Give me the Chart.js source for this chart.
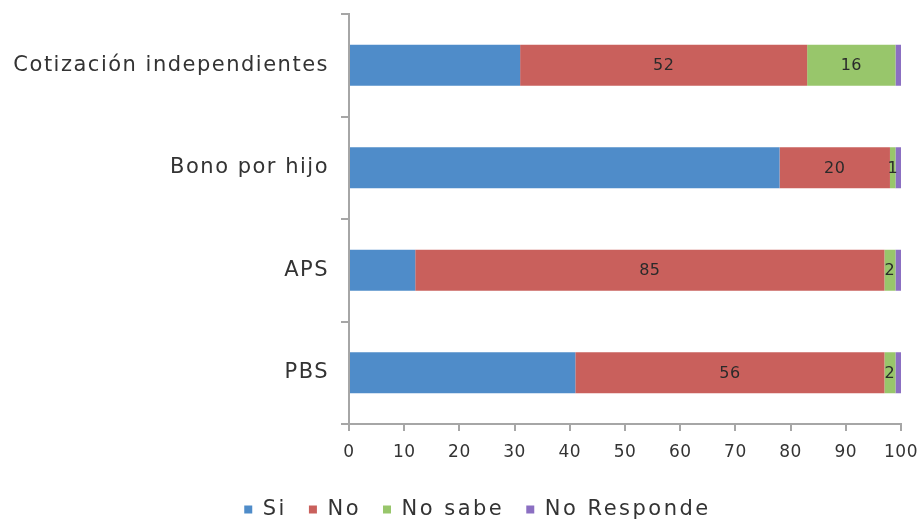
<!DOCTYPE html>
<html>
<head>
<meta charset="utf-8">
<script src="https://cdn.jsdelivr.net/npm/chart.js@4/dist/chart.umd.min.js"></script>
<style>
  html, body { margin: 0; padding: 0; background: #ffffff; }
  #wrap { width: 923px; height: 524px; }
</style>
</head>
<body>
<div id="wrap"><canvas id="c" width="923" height="524"></canvas></div>
<script>
// Programmes asked about, top to bottom
const categories = ['Cotización independientes', 'Bono por hijo', 'APS', 'PBS'];

// Share of answers per programme (%)
const si          = [31, 78, 12, 41];
const no          = [52, 20, 85, 56];
const noSabe      = [16, 1, 2, 2];
const noResponde  = [1, 1, 1, 1];

const seriesNames = ['Si', 'No', 'No sabe', 'No Responde'];
const xTicks = [0, 10, 20, 30, 40, 50, 60, 70, 80, 90, 100];

const colors = ['#4f8cc9', '#c9605c', '#98c66b', '#8b6fc2'];
const FONT = 'DejaVu Sans';
const TEXT = '#333333';
const AXIS = '#a6a6a6';

// Segments whose value is printed inside the bar
const labelled = [1, 2];

// Run a box's draw (or fit) with a given letter spacing and optional shift
function spaced(box, method, sp, dx) {
  const key = '_sp_' + method;
  if (box[key]) return;
  box[key] = true;
  const orig = box[method];
  box[method] = function (...args) {
    const c = this.ctx;
    c.save();
    c.letterSpacing = sp;
    if (dx) c.translate(dx, 0);
    const r = orig.apply(this, args);
    c.restore();
    return r;
  };
}

const valueLabels = {
  id: 'valueLabels',
  afterDatasetsDraw(chart) {
    const ctx = chart.ctx;
    ctx.save();
    ctx.letterSpacing = '0.5px';
    ctx.font = '16px "' + FONT + '"';
    ctx.fillStyle = '#2a2a2a';
    ctx.textAlign = 'center';
    ctx.textBaseline = 'middle';
    labelled.forEach(di => {
      const meta = chart.getDatasetMeta(di);
      const data = chart.data.datasets[di].data;
      meta.data.forEach((bar, i) => {
        const p = bar.getProps(['x', 'y', 'base'], true);
        ctx.fillText(String(data[i]), (p.x + p.base) / 2, p.y + 1);
      });
    });
    ctx.restore();
  }
};

const legendSpacing = {
  id: 'legendSpacing',
  afterInit(chart) {
    if (chart.legend) {
      spaced(chart.legend, 'fit', '2.5px');
      spaced(chart.legend, 'draw', '2.5px', 27);
    }
  }
};

const allSeries = [si, no, noSabe, noResponde];

new Chart(document.getElementById('c'), {
  type: 'bar',
  data: {
    labels: categories,
    datasets: allSeries.map((vals, k) => ({
      label: seriesNames[k],
      data: vals,
      backgroundColor: colors[k],
      borderWidth: 0,
      categoryPercentage: 0.4,
      barPercentage: 1.0
    }))
  },
  options: {
    indexAxis: 'y',
    responsive: false,
    animation: false,
    devicePixelRatio: 1,
    layout: { padding: { top: 14, right: 22, left: 0, bottom: -6 } },
    plugins: {
      tooltip: { enabled: false },
      legend: {
        position: 'bottom',
        align: 'center',
        labels: {
          font: { family: FONT, size: 21 },
          color: TEXT,
          boxWidth: 8,
          boxHeight: 8,
          padding: 22
        }
      }
    },
    scales: {
      x: {
        stacked: true,
        min: 0,
        max: 100,
        afterBuildTicks(scale) { scale.ticks = xTicks.map(v => ({ value: v })); },
        afterFit(scale) {
          scale.height = 53;
          scale.paddingLeft = 0;
          scale.paddingRight = 0;
          spaced(scale, 'draw', '0.5px');
        },
        border: { display: true, color: AXIS, width: 2 },
        grid: { display: true, drawOnChartArea: false, drawTicks: true, tickLength: 7, color: AXIS, lineWidth: 2 },
        ticks: {
          font: { family: FONT, size: 17 },
          color: TEXT,
          padding: 11,
          maxRotation: 0,
          autoSkip: false
        }
      },
      y: {
        stacked: true,
        afterFit(scale) {
          scale.width = 349;
          scale.paddingTop = 0;
          scale.paddingBottom = 0;
          spaced(scale, 'draw', '1.5px');
        },
        border: { display: true, color: AXIS, width: 2 },
        grid: { display: true, drawOnChartArea: false, drawTicks: true, tickLength: 8, color: AXIS, lineWidth: 2, offset: true },
        ticks: {
          font: { family: FONT, size: 21 },
          color: TEXT,
          padding: 12
        }
      }
    }
  },
  plugins: [legendSpacing, valueLabels]
});
</script>
</body>
</html>
